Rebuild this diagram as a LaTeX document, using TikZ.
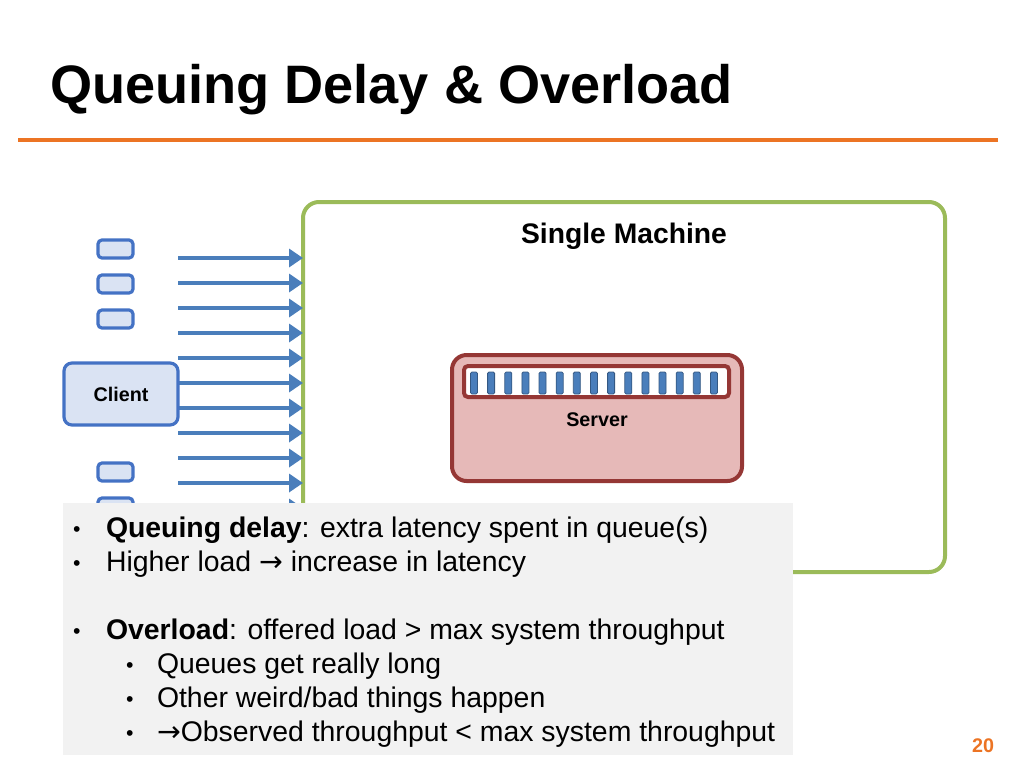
\documentclass[tikz,border=0pt]{standalone}
\usepackage{fontspec}
\setmainfont{Liberation Sans}
\newfontfamily\arrowfont{DejaVu Sans}
\usetikzlibrary{arrows.meta}
\definecolor{accentorange}{HTML}{EC7424}
\definecolor{machinegreen}{HTML}{9BBB59}
\definecolor{clientblue}{HTML}{4472C4}
\definecolor{clientfill}{HTML}{DAE3F3}
\definecolor{reqblue}{HTML}{4A7EBB}
\definecolor{serverred}{HTML}{953735}
\definecolor{serverfill}{HTML}{E6B9B8}
\definecolor{notegray}{HTML}{F2F2F2}
\newcommand{\smallbullet}{\scalebox{0.75}{\textbullet}}
\begin{document}
\begin{tikzpicture}[
    x=0.75pt, y=-0.75pt,
    every node/.style={inner sep=0pt, outer sep=0pt},
    machine box/.style={draw=machinegreen, line width=3pt, rounded corners=12pt, minimum width=481.5pt, minimum height=277.5pt},
    mini client/.style={draw=clientblue, fill=clientfill, line width=2.4pt, rounded corners=3pt, minimum width=26.25pt, minimum height=13.5pt},
    client box/.style={draw=clientblue, fill=clientfill, line width=2.4pt, rounded corners=6pt, minimum width=85.5pt, minimum height=46.5pt, font=\fontsize{14.8}{17}\selectfont\bfseries},
    server box/.style={draw=serverred, fill=serverfill, line width=3pt, rounded corners=11pt, minimum width=217.5pt, minimum height=94.5pt},
    queue box/.style={draw=serverred, fill=white, line width=3pt, rounded corners=3pt, minimum width=198.75pt, minimum height=23.25pt},
    slot/.style={draw=reqblue!70!black, fill=reqblue, line width=0.6pt, rounded corners=1pt, minimum width=5.25pt, minimum height=16.5pt},
    req arrow/.style={draw=reqblue, line width=2.6pt, -{Triangle[length=10.5pt, width=13.5pt]}},
    small label/.style={font=\fontsize{14.8}{17}\selectfont\bfseries},
    line text/.style={anchor=base west, font=\fontsize{21.3}{25}\selectfont},
    ]
\useasboundingbox (0,0) rectangle (1024,768);
\node[anchor=base west, font=\fontsize{40.6}{48}\selectfont\bfseries] (title) at (50,103) {Queuing Delay \& Overload};
\coordinate (ruleW) at (18,140);
\coordinate (ruleE) at (998,140);
\draw[accentorange, line width=2.4pt] (ruleW) -- (ruleE);
\node[machine box] (machine) at (624,387) {};
\node[anchor=base, font=\fontsize{21.2}{25}\selectfont\bfseries] (machinelabel) at (624,243) {Single Machine};
\foreach \i in {0,...,10}
    \coordinate (req\i) at (178,258+25*\i);
\foreach \i in {0,...,10}
    \draw[req arrow] (req\i) -- (req\i -| machine.west);
\node[mini client] (c1) at (115.5,249) {};
\node[mini client] (c2) at (115.5,284) {};
\node[mini client] (c3) at (115.5,319) {};
\node[client box] (client) at (121,394) {Client};
\node[mini client] (c4) at (115.5,472) {};
\node[mini client] (c5) at (115.5,507) {};
\node[server box] (server) at (597,418) {};
\node[queue box] (queue) at (596.5,381.5) {};
\foreach \i in {0,...,14}
    \node[slot] (slot\i) at (474+17.14*\i,383) {};
\node[small label, anchor=base] (serverlabel) at (597,426) {Server};
\node[fill=notegray, minimum width=547.5pt, minimum height=189pt] (note) at (428,629) {};
\node[line text] (bul1) at (73,536) {\smallbullet};
\node[line text] (line1) at (106,537) {\textbf{Queuing delay}: extra latency spent in queue(s)};
\node[line text] (bul2) at (73,570) {\smallbullet};
\node[line text] (line2) at (106,571) {Higher load {\arrowfont →} increase in latency};
\node[line text] (bul3) at (73,638) {\smallbullet};
\node[line text] (line3) at (106,639) {\textbf{Overload}: offered load > max system throughput};
\node[line text] (bul4) at (126,672) {\smallbullet};
\node[line text] (line4) at (157,673) {Queues get really long};
\node[line text] (bul5) at (126,706) {\smallbullet};
\node[line text] (line5) at (157,707) {Other weird/bad things happen};
\node[line text] (bul6) at (126,740) {\smallbullet};
\node[line text] (line6) at (157,741) {{\arrowfont →}Observed throughput < max system throughput};
\node[small label, text=accentorange, anchor=base] (pagenum) at (983,752) {20};
\end{tikzpicture}
\end{document}
